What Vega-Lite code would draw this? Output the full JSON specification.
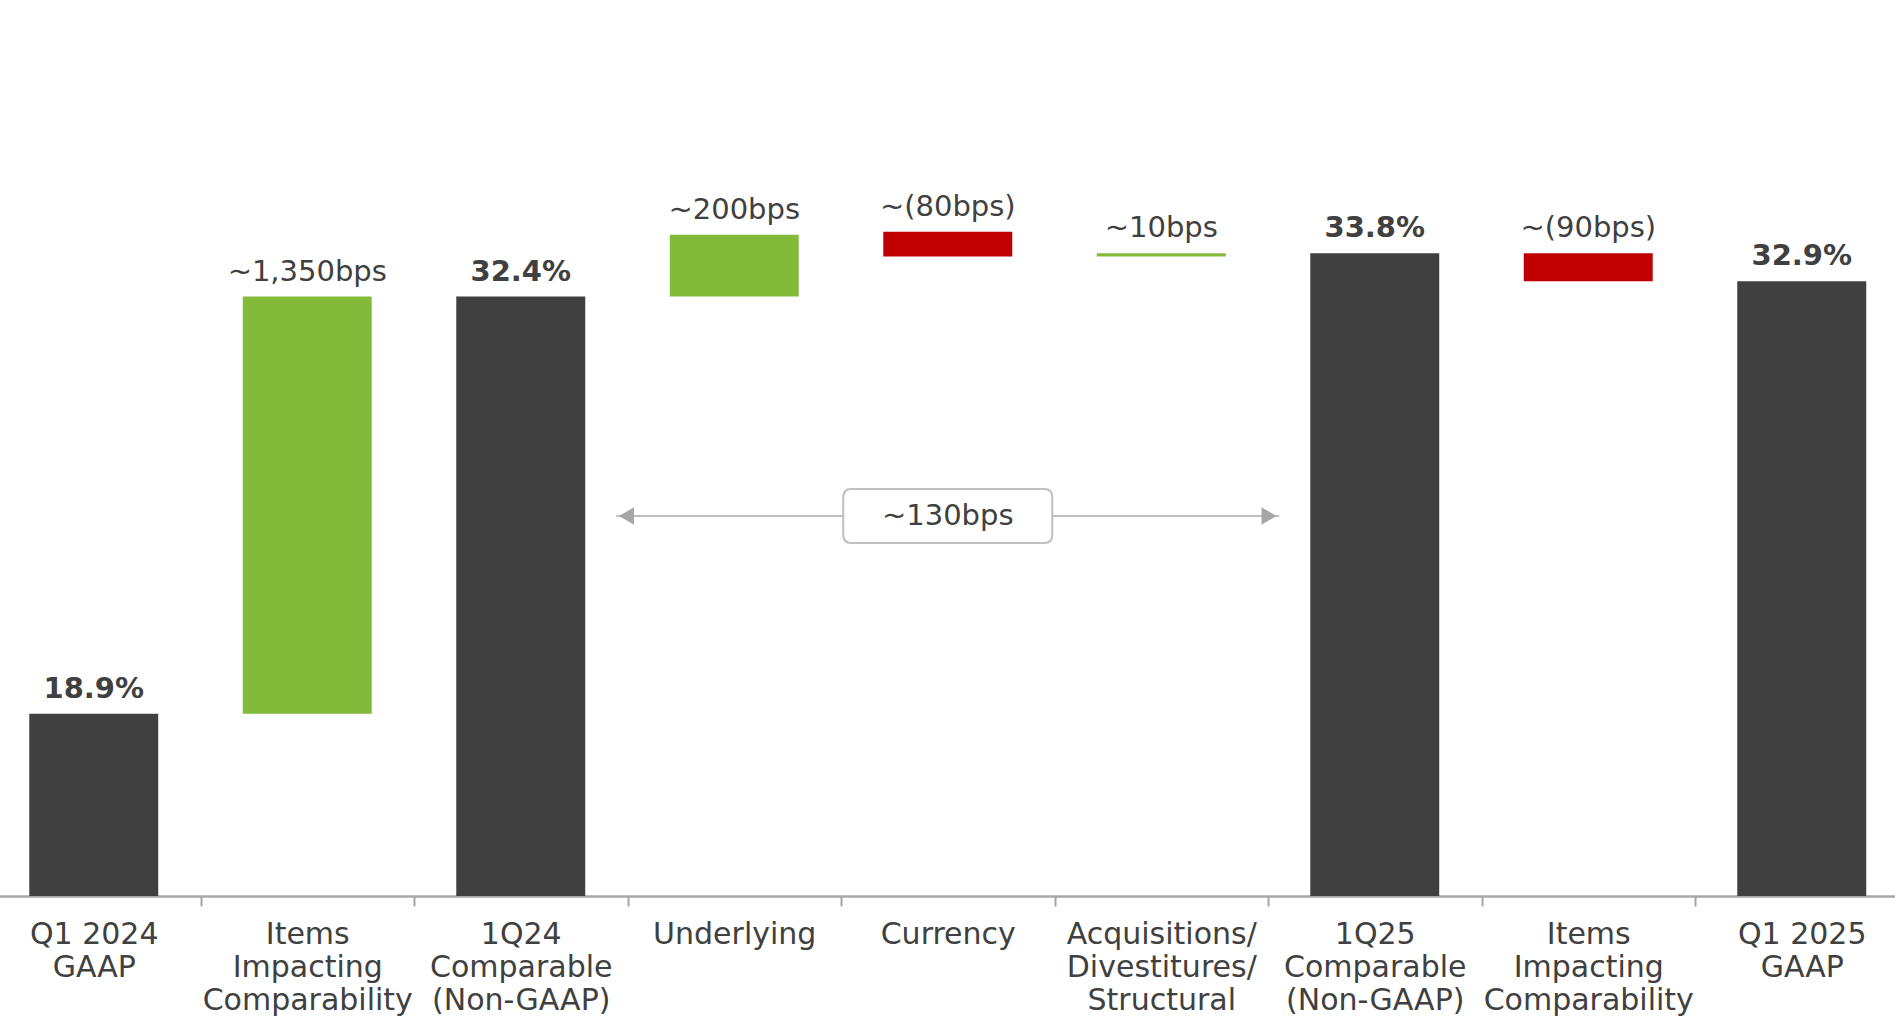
{
  "$schema": "https://vega.github.io/schema/vega-lite/v6.json",
  "width": 1895,
  "height": 896,
  "autosize": {"type": "none"},
  "padding": {"left": 0, "top": 0, "right": 0, "bottom": 128},
  "background": "white",
  "config": {"view": {"stroke": null}, "font": "DejaVu Sans"},
  "datasets": {
    "steps": [
      {"cat": "Q1 2024|GAAP", "start": 0, "end": 18.9, "kind": "total", "label": "18.9%"},
      {"cat": "Items|Impacting|Comparability", "start": 18.9, "end": 32.4, "kind": "increase", "label": "~1,350bps"},
      {"cat": "1Q24|Comparable|(Non-GAAP)", "start": 0, "end": 32.4, "kind": "total", "label": "32.4%"},
      {"cat": "Underlying", "start": 32.4, "end": 34.4, "kind": "increase", "label": "~200bps"},
      {"cat": "Currency", "start": 34.5, "end": 33.7, "kind": "decrease", "label": "~(80bps)"},
      {"cat": "Acquisitions/|Divestitures/|Structural", "start": 33.7, "end": 33.8, "kind": "increase", "label": "~10bps"},
      {"cat": "1Q25|Comparable|(Non-GAAP)", "start": 0, "end": 33.8, "kind": "total", "label": "33.8%"},
      {"cat": "Items|Impacting|Comparability|", "start": 33.8, "end": 32.9, "kind": "decrease", "label": "~(90bps)"},
      {"cat": "Q1 2025|GAAP", "start": 0, "end": 32.9, "kind": "total", "label": "32.9%"}
    ],
    "annot": [
      {"from": "1Q24|Comparable|(Non-GAAP)", "to": "1Q25|Comparable|(Non-GAAP)", "mid": "Currency", "level": 25.3, "label": "~130bps"}
    ]
  },
  "data": {"name": "steps"},
  "encoding": {
    "x": {
      "field": "cat",
      "type": "nominal",
      "sort": null,
      "title": null,
      "scale": {"range": [-13, 1908.5], "paddingInner": 0.396, "paddingOuter": 0.198},
      "axis": {
        "title": null,
        "labelExpr": "split(datum.label, '|')",
        "labelFont": "DejaVu Sans",
        "labelFontSize": 30,
        "labelColor": "#404040",
        "labelLineHeight": 33,
        "labelPadding": 13,
        "labelAngle": 0,
        "labelLimit": 0,
        "labelBaseline": "top",
        "labelBound": false,
        "labelOverlap": false,
        "domainColor": "#A6A6A6",
        "domainWidth": 2.5,
        "tickColor": "#A6A6A6",
        "tickWidth": 2,
        "tickSize": 10,
        "tickOffset": -106.75,
        "labelOffset": 106.75
      }
    }
  },
  "layer": [
    {
      "mark": {"type": "bar"},
      "encoding": {
        "y": {"field": "start", "type": "quantitative", "scale": {"domain": [13, 42], "clamp": true, "zero": false, "nice": false}, "axis": null},
        "y2": {"field": "end"},
        "color": {"field": "kind", "type": "nominal", "scale": {"domain": ["total", "increase", "decrease"], "range": ["#404040", "#84BA3A", "#C00000"]}, "legend": null}
      }
    },
    {
      "transform": [{"filter": "datum.kind === 'total'"}],
      "mark": {"type": "text", "fontWeight": "bold", "fontSize": 29, "baseline": "alphabetic", "dy": -16, "color": "#404040"},
      "encoding": {
        "y": {"field": "end", "type": "quantitative", "axis": null},
        "text": {"field": "label"}
      }
    },
    {
      "transform": [{"filter": "datum.kind === 'increase'"}],
      "mark": {"type": "text", "fontSize": 29, "baseline": "alphabetic", "dy": -16, "color": "#404040"},
      "encoding": {
        "y": {"field": "end", "type": "quantitative", "axis": null},
        "text": {"field": "label"}
      }
    },
    {
      "transform": [{"filter": "datum.kind === 'decrease'"}],
      "mark": {"type": "text", "fontSize": 29, "baseline": "alphabetic", "dy": -16, "color": "#404040"},
      "encoding": {
        "y": {"field": "start", "type": "quantitative", "axis": null},
        "text": {"field": "label"}
      }
    },
    {
      "data": {"name": "annot"},
      "mark": {"type": "rule", "color": "#BFBFBF", "strokeWidth": 2},
      "encoding": {
        "x": {"field": "from", "type": "nominal", "sort": null, "title": null, "bandPosition": 1.24},
        "x2": {"field": "to", "bandPosition": -0.24},
        "y": {"field": "level", "type": "quantitative", "axis": null}
      }
    },
    {
      "data": {"name": "annot"},
      "mark": {"type": "point", "shape": "triangle-left", "filled": true, "color": "#A6A6A6", "opacity": 1, "size": 300},
      "encoding": {
        "x": {"field": "from", "type": "nominal", "sort": null, "title": null, "bandPosition": 1.32},
        "y": {"field": "level", "type": "quantitative", "axis": null}
      }
    },
    {
      "data": {"name": "annot"},
      "mark": {"type": "point", "shape": "triangle-right", "filled": true, "color": "#A6A6A6", "opacity": 1, "size": 300},
      "encoding": {
        "x": {"field": "to", "type": "nominal", "sort": null, "title": null, "bandPosition": -0.32},
        "y": {"field": "level", "type": "quantitative", "axis": null}
      }
    },
    {
      "data": {"name": "annot"},
      "mark": {
        "type": "point",
        "shape": "M -0.923 -0.258 L 0.923 -0.258 Q 1 -0.258 1 -0.181 L 1 0.181 Q 1 0.258 0.923 0.258 L -0.923 0.258 Q -1 0.258 -1 0.181 L -1 -0.181 Q -1 -0.258 -0.923 -0.258 Z",
        "size": 43681,
        "filled": true,
        "fill": "white",
        "stroke": "#BFBFBF",
        "strokeWidth": 2,
        "opacity": 1
      },
      "encoding": {
        "x": {"field": "mid", "type": "nominal", "sort": null, "title": null},
        "y": {"field": "level", "type": "quantitative", "axis": null}
      }
    },
    {
      "data": {"name": "annot"},
      "mark": {"type": "text", "fontSize": 29, "baseline": "middle", "color": "#404040"},
      "encoding": {
        "x": {"field": "mid", "type": "nominal", "sort": null, "title": null},
        "y": {"field": "level", "type": "quantitative", "axis": null},
        "text": {"field": "label"}
      }
    }
  ]
}
